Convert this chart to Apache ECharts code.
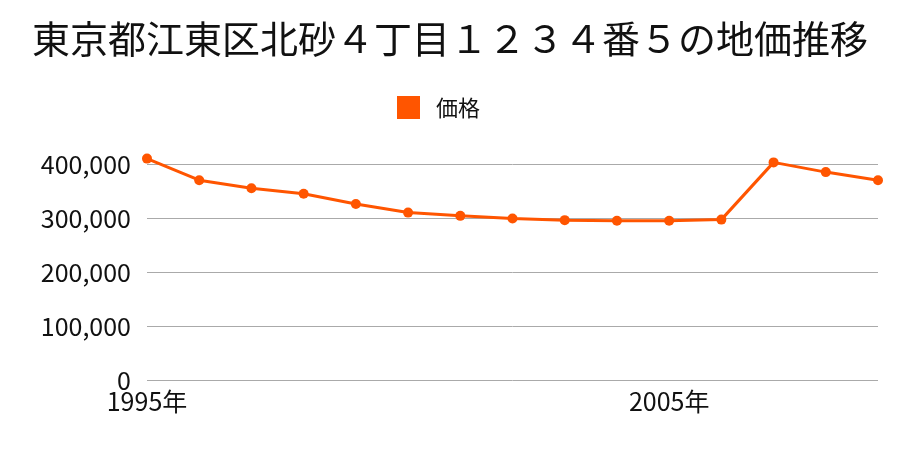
<!DOCTYPE html>
<html>
<head>
<meta charset="utf-8">
<script src="https://cdn.jsdelivr.net/npm/echarts@6/dist/echarts.min.js"></script>
<style>html,body{margin:0;padding:0;background:#fff}#c{width:900px;height:450px}</style>
</head>
<body>
<div id="c"></div>
<script>
const titleText = '東京都江東区北砂４丁目１２３４番５の地価推移';
const seriesName = '価格';
const years = ['1995年','1996年','1997年','1998年','1999年','2000年','2001年','2002年','2003年','2004年','2005年','2006年','2007年','2008年','2009年'];
const prices = [410000, 370000, 355000, 345000, 326000, 310000, 304000, 299000, 296000, 295000, 295000, 297000, 403000, 385000, 370000];
const yTicks = [0, 100000, 200000, 300000, 400000];

const font = '"Noto Sans CJK JP", "Noto Sans", sans-serif';
const chart = echarts.init(document.getElementById('c'), null, {renderer: 'canvas'});
chart.setOption({
  animation: false,
  backgroundColor: '#ffffff',
  title: {
    text: titleText,
    left: 'center',
    top: 15,
    textStyle: {fontFamily: font, fontSize: 38, fontWeight: 'normal', color: '#111'}
  },
  legend: {
    data: [seriesName],
    top: 91,
    left: 392,
    itemWidth: 23,
    itemHeight: 23,
    icon: 'rect',
    textStyle: {fontFamily: font, fontSize: 22, color: '#111', padding: [0, 0, 0, 11]}
  },
  grid: {left: 147, right: 22, top: 164, bottom: 70, containLabel: false},
  xAxis: {
    type: 'category',
    data: years,
    boundaryGap: false,
    axisLine: {show: false},
    axisTick: {show: false},
    splitLine: {show: false},
    axisLabel: {interval: 9, margin: 9, fontFamily: font, fontSize: 25, color: '#111'}
  },
  yAxis: {
    type: 'value',
    min: yTicks[0],
    max: yTicks[yTicks.length - 1],
    interval: 100000,
    axisLine: {show: false},
    axisTick: {show: false},
    splitLine: {lineStyle: {color: '#aaaaaa', width: 1}},
    axisLabel: {
      margin: 16,
      fontFamily: font, fontSize: 25, color: '#111',
      formatter: v => v.toLocaleString('en-US')
    }
  },
  series: [{
    name: seriesName,
    type: 'line',
    data: prices,
    clip: false,
    symbol: 'circle',
    symbolSize: 10,
    itemStyle: {color: '#ff5500'},
    lineStyle: {color: '#ff5500', width: 3}
  }]
});
</script>
</body>
</html>
